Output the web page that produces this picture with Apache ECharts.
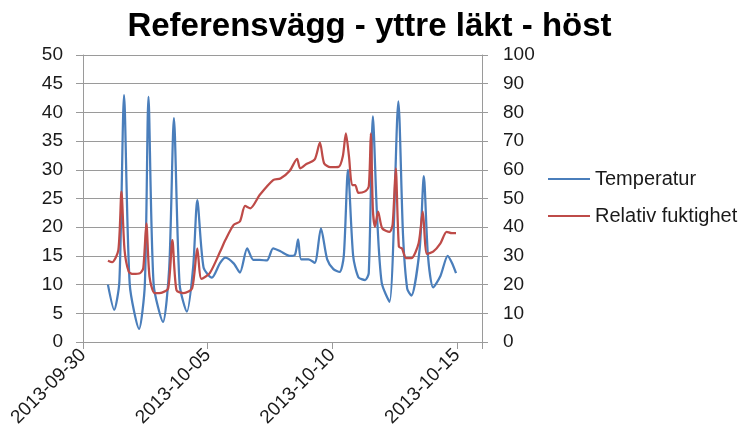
<!DOCTYPE html>
<html>
<head>
<meta charset="utf-8">
<script src="https://cdn.jsdelivr.net/npm/echarts@6/dist/echarts.min.js"></script>
<style>html,body{margin:0;padding:0;background:#fff}#c{width:739px;height:443px}</style>
</head>
<body>
<div id="c"></div>
<script>
const titleText = 'Referensvägg - yttre läkt - höst';
const seriesNames = ['Temperatur', 'Relativ fuktighet'];
const leftTicks = [0, 50, 5];
const rightTicks = [0, 100, 10];
const xStart = '2013-09-30';
const xEndDays = 16;
const xTickDays = 5;

const tempTimes = ['2013-10-01 00:00','2013-10-01 06:00','2013-10-01 11:00','2013-10-01 15:30','2013-10-01 21:00',
 '2013-10-02 06:00','2013-10-02 11:30','2013-10-02 15:00','2013-10-02 20:00',
 '2013-10-03 05:00','2013-10-03 11:00','2013-10-03 15:30','2013-10-03 21:00',
 '2013-10-04 04:00','2013-10-04 10:00','2013-10-04 14:00','2013-10-04 20:00',
 '2013-10-05 04:00','2013-10-05 12:00','2013-10-05 17:00','2013-10-06 01:00','2013-10-06 07:00','2013-10-06 14:00','2013-10-06 20:00',
 '2013-10-07 02:00','2013-10-07 09:00','2013-10-07 15:00','2013-10-07 22:00',
 '2013-10-08 07:00','2013-10-08 12:00','2013-10-08 15:00','2013-10-08 18:00',
 '2013-10-09 01:00','2013-10-09 07:00','2013-10-09 13:00','2013-10-09 19:00',
 '2013-10-10 01:00','2013-10-10 07:00','2013-10-10 11:00','2013-10-10 15:00','2013-10-10 20:00',
 '2013-10-11 01:00','2013-10-11 07:30','2013-10-11 11:00','2013-10-11 15:00','2013-10-11 19:00','2013-10-11 23:30',
 '2013-10-12 07:00','2013-10-12 15:30','2013-10-12 20:00',
 '2013-10-13 00:00','2013-10-13 04:00','2013-10-13 12:00','2013-10-13 16:00','2013-10-13 20:00',
 '2013-10-14 01:00','2013-10-14 08:00','2013-10-14 15:00','2013-10-14 19:00','2013-10-14 23:00'];
const tempValues = [10,5.6,10.5,43,10,
 2.3,10,42.7,10,
 3.5,13,39,10,
 5.3,13,24.7,13,
 11.2,13.8,14.7,13.7,12.1,16.3,14.3,
 14.3,14.2,16.3,15.8,
 15,15.2,17.9,14.4,
 14.4,13.8,19.8,14.4,
 12.7,12.2,15,30,15,
 11.3,10.8,12,39.3,21.9,10.3,
 7,41.9,18.6,
 9.3,8.1,16.2,28.9,15,
 9.5,11.5,15,13.8,12];

const rhTimes = ['2013-10-01 00:00','2013-10-01 04:00','2013-10-01 10:00','2013-10-01 13:00','2013-10-01 16:00','2013-10-01 20:00',
 '2013-10-02 00:00','2013-10-02 07:00','2013-10-02 10:00','2013-10-02 13:00','2013-10-02 16:00','2013-10-02 21:00',
 '2013-10-03 04:00','2013-10-03 10:00','2013-10-03 14:00','2013-10-03 18:00',
 '2013-10-04 01:00','2013-10-04 09:00','2013-10-04 14:00','2013-10-04 18:00',
 '2013-10-05 02:00','2013-10-05 12:00','2013-10-05 17:00','2013-10-06 01:00','2013-10-06 07:00','2013-10-06 12:00','2013-10-06 17:00',
 '2013-10-07 02:00','2013-10-07 15:00','2013-10-07 22:00',
 '2013-10-08 07:00','2013-10-08 14:00','2013-10-08 17:00','2013-10-08 23:00',
 '2013-10-09 07:00','2013-10-09 12:00','2013-10-09 16:00','2013-10-09 22:00',
 '2013-10-10 06:00','2013-10-10 10:00','2013-10-10 13:00','2013-10-10 16:00','2013-10-10 19:00','2013-10-10 22:00',
 '2013-10-11 01:00','2013-10-11 07:00','2013-10-11 11:00','2013-10-11 13:00','2013-10-11 15:00','2013-10-11 17:00','2013-10-11 20:00',
 '2013-10-12 00:00','2013-10-12 07:00','2013-10-12 10:00','2013-10-12 13:00','2013-10-12 16:00','2013-10-12 19:00','2013-10-12 23:00',
 '2013-10-13 04:00','2013-10-13 11:00','2013-10-13 15:00','2013-10-13 19:00',
 '2013-10-14 01:00','2013-10-14 08:00','2013-10-14 14:00','2013-10-14 19:00','2013-10-14 23:00'];
const rhValues = [28.3,27.8,32,52.4,32,24.5,
 23.7,24,25.7,41.3,22.8,17,
 17.2,18.7,35.5,18,
 17,18.7,32.6,22,
 24,31.5,35.5,40.8,42,47.4,46.6,
 51.2,56.4,57,
 59.7,63.8,60.5,62,
 63.6,69.5,62.3,60.9,
 61,64.6,72.7,64.6,54.7,54.7,
 52,52.4,54.1,72.7,46,40.2,45.4,
 39.6,38.4,41,60.5,33.2,32.6,29.2,
 29.2,34.4,45.4,30.7,
 31.5,34.4,38.4,37.9,37.9];

const base = Date.UTC(2013, 8, 30);
function toDays(s) {
  const [d, t] = s.split(' ');
  const [y, m, dd] = d.split('-').map(Number);
  const [hh, mm] = t.split(':').map(Number);
  return (Date.UTC(y, m - 1, dd, hh, mm) - base) / 86400000;
}
function fmtDay(v) {
  return new Date(base + v * 86400000).toISOString().slice(0, 10);
}
const tempData = tempTimes.map((t, i) => [toDays(t), tempValues[i]]);
const rhData = rhTimes.map((t, i) => [toDays(t), rhValues[i]]);

const FONT = '"Liberation Sans", Arial, sans-serif';
const axisCol = '#9a9a9a';
const textCol = '#1a1a1a';
const blue = '#4A7EBB', red = '#BE4B48';

const chart = echarts.init(document.getElementById('c'), null, {renderer: 'canvas'});
chart.setOption({
  animation: false,
  backgroundColor: '#fff',
  title: {
    text: titleText, left: 'center', top: 10, padding: 0,
    textStyle: {fontFamily: FONT, fontSize: 33, fontWeight: 'bold', color: '#000'}
  },
  legend: {
    orient: 'vertical', left: 548, top: 169, itemGap: 17, padding: 0,
    itemWidth: 42, itemHeight: 2, icon: 'rect',
    textStyle: {fontFamily: FONT, fontSize: 20, color: textCol},
    data: [{name: seriesNames[0], itemStyle: {color: blue}}, {name: seriesNames[1], itemStyle: {color: red}}]
  },
  grid: {left: 83, right: 257, top: 55, bottom: 101, containLabel: false},
  xAxis: {
    type: 'value', min: 0, max: xEndDays, interval: xTickDays,
    axisLine: {show: true, lineStyle: {color: axisCol}},
    axisTick: {show: true, length: 7, lineStyle: {color: axisCol}},
    splitLine: {show: false},
    axisLabel: {
      rotate: 45, margin: 10, fontFamily: FONT, fontSize: 19, color: textCol,
      formatter: v => (v % xTickDays === 0 && v < xEndDays) ? fmtDay(v) : ''
    }
  },
  yAxis: [{
    type: 'value', min: leftTicks[0], max: leftTicks[1], interval: leftTicks[2],
    axisLine: {show: true, lineStyle: {color: axisCol}},
    axisTick: {show: true, length: 7, lineStyle: {color: axisCol}},
    splitLine: {show: true, lineStyle: {color: axisCol, width: 1}},
    axisLabel: {margin: 20, fontFamily: FONT, fontSize: 19, color: textCol}
  }, {
    type: 'value', min: rightTicks[0], max: rightTicks[1], interval: rightTicks[2],
    position: 'right',
    axisLine: {show: true, lineStyle: {color: axisCol}},
    axisTick: {show: true, length: 6, lineStyle: {color: axisCol}},
    splitLine: {show: false},
    axisLabel: {margin: 21, fontFamily: FONT, fontSize: 19, color: textCol}
  }],
  series: [{
    name: seriesNames[0], type: 'line', yAxisIndex: 0, data: tempData,
    symbol: 'none', smooth: 0.25,
    lineStyle: {color: blue, width: 2.25}, itemStyle: {color: blue}
  }, {
    name: seriesNames[1], type: 'line', yAxisIndex: 1, data: rhData,
    symbol: 'none', smooth: 0.25,
    lineStyle: {color: red, width: 2.25}, itemStyle: {color: red}
  }]
});
</script>
</body>
</html>
